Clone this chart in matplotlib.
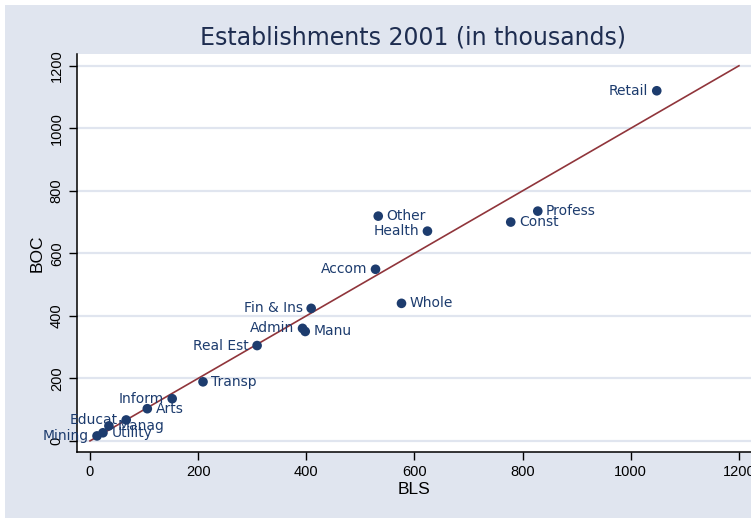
import matplotlib
matplotlib.use("Agg")
import matplotlib.pyplot as plt
from matplotlib.patches import Rectangle

plt.rcParams['font.family'] = ['Liberation Sans', 'DejaVu Sans']

# industry data, thousands of establishments
industries = ["Retail", "Profess", "Const", "Other", "Health", "Accom", "Whole",
              "Fin & Ins", "Admin", "Manu", "Real Est", "Transp", "Inform",
              "Arts", "Educat", "Manag", "Utility", "Mining"]
bls = [1048, 828, 778, 533, 624, 528, 576, 409, 393, 398, 309, 209, 152,
       106, 67, 35, 24, 13]
boc = [1120, 735, 700, 719, 671, 549, 440, 424, 360, 350, 305, 189, 135,
       103, 67, 48, 26, 16]

# labels drawn on the left side of the marker
left_labels = {"Retail", "Health", "Accom", "Fin & Ins", "Admin", "Real Est",
               "Inform", "Educat", "Mining"}

BG = "#e0e5ef"
NAVY = "#1d3c6e"
W, H = 751, 518

fig = plt.figure(figsize=(W / 100, H / 100), dpi=100, facecolor="white")
fig.patches.append(Rectangle((5 / W, 0), 1, (H - 5) / H, transform=fig.transFigure,
                             facecolor=BG, edgecolor="none", zorder=-10))

ax = fig.add_axes([77 / W, (H - 452) / H, (W - 77) / W, (452 - 54) / H])
ax.set_facecolor("white")

ax.set_xlim(-24, (W - 90) / 0.5408)
ax.set_ylim(-35.5, 1237.6)

ax.set_yticks(range(0, 1201, 200))
ax.set_xticks(range(0, 1201, 200))
ax.grid(axis="y", color=BG, linewidth=1.6)
ax.set_axisbelow(True)

for s in ["top", "right"]:
    ax.spines[s].set_visible(False)
for s in ["left", "bottom"]:
    ax.spines[s].set_linewidth(1.1)

ax.tick_params(axis="both", direction="out", length=6, width=1, labelsize=10.5)
ax.tick_params(axis="y", labelrotation=90)
for lab in ax.get_yticklabels():
    lab.set_va("center")

ax.plot([0, 1200], [0, 1200], color="#90353b", linewidth=1.2, zorder=2)
ax.scatter(bls, boc, s=48, color=NAVY, zorder=3, edgecolors="none")

for name, x, y in zip(industries, bls, boc):
    if name in left_labels:
        ax.annotate(name, (x, y), xytext=(-6, 0), textcoords="offset points",
                    ha="right", va="center", fontsize=10, color=NAVY,
                    family="DejaVu Sans")
    else:
        ax.annotate(name, (x, y), xytext=(6, 0), textcoords="offset points",
                    ha="left", va="center", fontsize=10, color=NAVY,
                    family="DejaVu Sans")

ax.set_xlabel("BLS", fontsize=12.5, labelpad=2)
ax.set_ylabel("BOC", fontsize=12.5, labelpad=4)
fig.text(413 / W, 1 - 38 / H, "Establishments 2001 (in thousands)",
         ha="center", va="center", fontsize=17, color="#1e2d50",
         family="DejaVu Sans")

fig.savefig("out.png", dpi=100, facecolor="white")
